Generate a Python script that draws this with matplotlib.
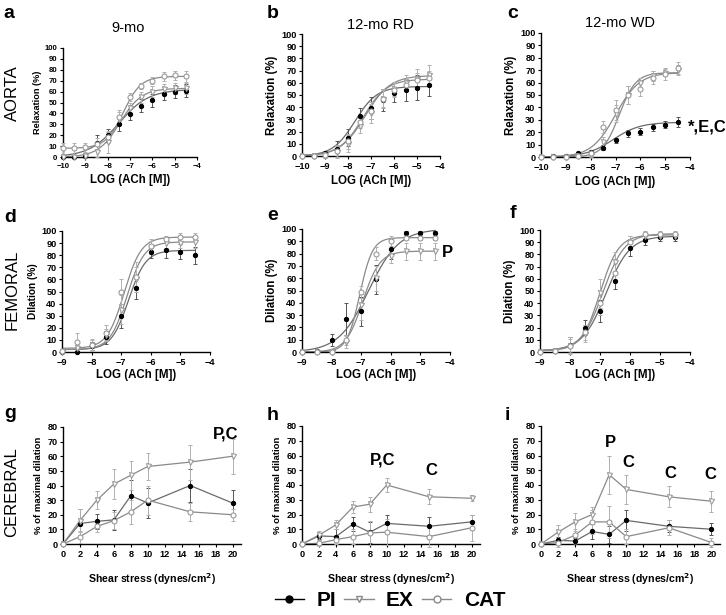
import numpy as np
import matplotlib
matplotlib.use("Agg")
import matplotlib.pyplot as plt
from matplotlib.lines import Line2D

plt.rcParams['font.family'] = ['Liberation Sans', 'DejaVu Sans']

# ---------------- data ----------------
x_aorta = [-10, -9.5, -9, -8.5, -8, -7.5, -7, -6.5, -6, -5.5, -5, -4.5]
x_fem = [-9, -8.5, -8, -7.5, -7, -6.5, -6, -5.5, -5, -4.5]
x_shear = [0, 2, 4, 6, 8, 10, 15, 20]

# panel a (aorta 9-mo)
a_pi = [0, 0, 1, 13, 20, 30, 39, 47, 52, 58, 60, 61]
a_pi_err = [0, 0, 1, 7, 6, 6, 5, 6, 6, 6, 6, 6]
a_ex = [0, 0, 1, 5, 14, 35, 45, 55, 60, 62, 63, 63]
a_ex_err = [0, 0, 2, 5, 10, 6, 5, 5, 5, 5, 5, 5]
a_cat = [8, 8, 9, 12, 18, 37, 55, 65, 70, 74, 75, 74]
a_cat_err = [5, 5, 4, 5, 5, 6, 4, 3, 3, 4, 4, 5]
# panel b (aorta 12-mo RD)
b_pi = [0, 0, 2.5, 6, 15, 33, 39, 46, 52, 54, 56, 58]
b_pi_err = [0, 0, 2, 6, 7, 6, 9, 9, 8, 9, 10, 9]
b_ex = [0, 0, 1, 3, 10, 25, 35, 47, 55, 60, 63, 66]
b_ex_err = [0, 1, 3, 5, 7, 6, 8, 8, 6, 6, 8, 9]
b_cat = [0, 0, 1, 4, 12, 28, 37, 47, 54, 58, 62, 64]
b_cat_err = [0, 1, 3, 5, 6, 5, 7, 7, 6, 5, 6, 6]
# panel c (aorta 12-mo WD)
c_pi = [0, 0.5, 1, 3, 4, 7.5, 13.5, 19, 20.5, 24, 26, 28]
c_pi_err = [0, 0.5, 0.5, 1, 1.5, 2, 2, 3, 3, 3, 3, 4]
c_ex = [0, 0, 0, 1, 2, 12, 35, 50, 60, 65, 68, 70]
c_ex_err = [0, 0, 0, 0, 2, 4, 7, 7, 4, 4, 3, 4]
c_cat = [0, 0, 0, 1, 3, 24, 38, 50, 55, 64, 67, 72]
c_cat_err = [0, 0, 0, 1, 2, 5, 8, 7, 6, 5, 5, 5]
# panel d (femoral 9-mo)
d_pi = [0, 0, 5, 12, 30, 53, 83, 84, 83, 80]
d_pi_err = [0, 1, 3, 5, 10, 9, 5, 6, 6, 7]
d_ex = [0, 3, 6, 14, 35, 60, 87, 90, 90, 91]
d_ex_err = [0, 3, 4, 5, 12, 10, 6, 4, 4, 5]
d_cat = [1, 8, 6, 16, 50, 62, 88, 93, 95, 95]
d_cat_err = [1, 8, 5, 6, 10, 12, 4, 3, 3, 3]
# panel e (femoral 12-mo RD)
e_pi = [0, 1, 9.5, 27, 33, 59, 84, 97, 97, 97]
e_pi_err = [0, 1, 5, 13, 12, 12, 8, 1, 1, 1]
e_ex = [0, 0, 0, 8, 38, 60, 78, 82, 82, 82]
e_ex_err = [0, 1, 1, 5, 12, 10, 6, 7, 7, 7]
e_cat = [0, 0, 0, 10, 49, 80, 90, 93, 93, 93]
e_cat_err = [0, 0, 1, 4, 5, 5, 4, 2, 2, 2]
# panel f (femoral 12-mo WD)
f_pi = [0, 1, 6, 20, 34, 58, 85, 92, 94, 94]
f_pi_err = [0, 1, 6, 6, 9, 6, 6, 4, 3, 3]
f_ex = [0, 1, 5, 15, 48, 74, 90, 95, 95, 95]
f_ex_err = [0, 1, 7, 7, 12, 8, 5, 2, 2, 2]
f_cat = [0, 1, 5, 16, 40, 65, 90, 97, 97, 97]
f_cat_err = [0, 1, 6, 6, 10, 8, 5, 2, 2, 2]
# panel g (cerebral 9-mo)
g_pi = [0, 14, 15.5, 16.5, 33, 28, 40, 28]
g_pi_err = [0, 10, 5, 7, 11, 10, 11, 9]
g_ex = [0, 16, 30, 41, 47, 53, 56, 60]
g_ex_err = [0, 8, 6, 10, 10, 9, 12, 12]
g_cat = [0, 5, 12, 16, 22, 30, 22, 20]
g_cat_err = [0, 4, 4, 6, 8, 10, 6, 4]
# panel h (cerebral 12-mo RD)
h_pi = [0, 5.5, 5, 13.5, 8, 14, 12, 15]
h_pi_err = [0, 2, 5, 5, 7, 6, 6, 5]
h_ex = [0, 6, 13, 25, 27, 40, 32, 31]
h_ex_err = [0, 3, 3, 4, 5, 5, 5, 2]
h_cat = [0, 0.5, 3, 5, 7.5, 8, 5, 11]
h_cat_err = [0, 2, 3, 5, 8, 9, 7, 9]
# panel i (cerebral 12-mo WD)
i_pi = [0, 2.5, 2, 8.5, 6.5, 16, 12, 10]
i_pi_err = [0, 2, 2, 5, 6, 7, 4, 4]
i_ex = [0, 8, 15, 20, 47, 37, 32, 29]
i_ex_err = [0, 5, 6, 5, 13, 10, 7, 7]
i_cat = [0, 1, 6, 15, 15, 5, 11, 1]
i_cat_err = [0, 3, 4, 8, 11, 5, 5, 3]

# fitted sigmoid parameters (bottom, top, logEC50, hill) per panel: PI, EX, CAT
fit_a = [(0, 62, -7.5, 0.65), (0, 63, -7.45, 0.9), (8, 74, -7.3, 1.1)]
fit_b = [(0, 57, -7.7, 0.9), (0, 66, -7.25, 0.8), (0, 63, -7.35, 0.85)]
fit_c = [(0, 28, -7.1, 0.8), (0, 68, -6.85, 1.3), (0, 68, -7.0, 0.9)]
fit_d = [(2, 84, -6.75, 1.5), (2, 91, -6.8, 1.5), (3, 95, -6.9, 1.5)]
fit_e = [(0, 100, -6.75, 0.85), (0, 82, -6.95, 1.5), (0, 93, -7.05, 2.0)]
fit_f = [(1, 95, -6.8, 1.1), (1, 96, -7.0, 1.4), (1, 97, -6.9, 1.2)]

series_names = ['PI', 'EX', 'CAT']
col_titles = ['9-mo', '12-mo RD', '12-mo WD']
row_labels = ['AORTA', 'FEMORAL', 'CEREBRAL']

# ---------------- style ----------------
GRAY = '#8a8a8a'
ERRG = '#b0b0b0'
styles = {
    'PI': dict(marker='o', mfc='black', mec='black', ms=3.0, ecolor='#555555'),
    'EX': dict(marker='v', mfc='white', mec='#9a9a9a', ms=3.6, ecolor=ERRG),
    'CAT': dict(marker='o', mfc='white', mec='#9a9a9a', ms=3.6, ecolor=ERRG),
}

W, H = 726, 615
fig = plt.figure(figsize=(W / 100, H / 100), dpi=100)


def ax_at(l, r, t, b):
    return fig.add_axes([l / W, 1 - b / H, (r - l) / W, (b - t) / H])


def style_axes(ax, tick_fs):
    for s in ['top', 'right']:
        ax.spines[s].set_visible(False)
    for s in ['left', 'bottom']:
        ax.spines[s].set_linewidth(1.0)
    ax.tick_params(direction='out', length=2.5, width=0.8, labelsize=tick_fs, pad=1.5)
    for lab in ax.get_xticklabels() + ax.get_yticklabels():
        lab.set_fontweight('bold')


def hill(x, p):
    b, t, ec, h = p
    return b + (t - b) / (1 + 10 ** (h * (ec - x)))


def draw_dose(ax, xs, data, errs, fits, xmin, tick_fs, ylab_fs, ylabel, xlab_pad=3):
    xc = np.linspace(xmin, -4.5, 300)
    for name, y, e, p in zip(series_names, data, errs, fits):
        st = styles[name]
        ax.plot(xc, hill(xc, p), color=GRAY if name != 'PI' else '#6a6a6a', lw=0.9, zorder=2)
        ax.errorbar(xs, y, yerr=e, fmt='none', ecolor=st['ecolor'], elinewidth=0.7,
                    capsize=1.6, capthick=0.7, zorder=3, clip_on=False)
        ax.plot(xs, y, ls='none', marker=st['marker'], mfc=st['mfc'], mec=st['mec'],
                ms=st['ms'], mew=0.8, zorder=4, clip_on=False)
    ax.set_xlim(xmin, -4)
    ax.set_ylim(0, 100)
    ax.set_xticks(np.arange(xmin, -3.5, 1))
    ax.set_yticks(np.arange(0, 101, 10))
    ax.set_xlabel('LOG (ACh [M])', fontsize=8.3, fontweight='bold', labelpad=xlab_pad)
    ax.set_ylabel(ylabel, fontsize=ylab_fs, fontweight='bold', labelpad=2)
    style_axes(ax, tick_fs)


def draw_shear(ax, data, errs):
    for name, y, e in zip(series_names, data, errs):
        st = styles[name]
        ax.plot(x_shear, y, color=GRAY if name != 'PI' else '#6a6a6a', lw=0.9, zorder=2)
        ax.errorbar(x_shear, y, yerr=e, fmt='none', ecolor=st['ecolor'], elinewidth=0.7,
                    capsize=1.6, capthick=0.7, zorder=3, clip_on=False)
        ax.plot(x_shear, y, ls='none', marker=st['marker'], mfc=st['mfc'], mec=st['mec'],
                ms=st['ms'], mew=0.8, zorder=4, clip_on=False)
    ax.set_xlim(0, 21)
    ax.set_ylim(0, 80)
    ax.set_xticks(np.arange(0, 21, 2))
    ax.set_yticks(np.arange(0, 81, 10))
    ax.set_xlabel('Shear stress (dynes/cm$^\\mathbf{2}$)', fontsize=7.6, fontweight='bold', labelpad=9)
    ax.set_ylabel('% of maximal dilation', fontsize=6.8, fontweight='bold', labelpad=3)
    style_axes(ax, 6.6)


# row 1 - aorta
axa = ax_at(63, 197, 48, 157)
draw_dose(axa, x_aorta, [a_pi, a_ex, a_cat], [a_pi_err, a_ex_err, a_cat_err], fit_a, -10, 5.6, 6.6, 'Relaxation (%)')
axb = ax_at(302, 440, 34, 156)
draw_dose(axb, x_aorta, [b_pi, b_ex, b_cat], [b_pi_err, b_ex_err, b_cat_err], fit_b, -10, 6.6, 8.3, 'Relaxation (%)')
axc = ax_at(541, 690, 33, 157)
draw_dose(axc, x_aorta, [c_pi, c_ex, c_cat], [c_pi_err, c_ex_err, c_cat_err], fit_c, -10, 6.6, 8.3, 'Relaxation (%)')
# row 2 - femoral
axd = ax_at(62, 210, 231, 352)
draw_dose(axd, x_fem, [d_pi, d_ex, d_cat], [d_pi_err, d_ex_err, d_cat_err], fit_d, -9, 6.6, 7.3, 'Dilation (%)', 2)
axe = ax_at(302, 450, 229, 352)
draw_dose(axe, x_fem, [e_pi, e_ex, e_cat], [e_pi_err, e_ex_err, e_cat_err], fit_e, -9, 6.6, 8.3, 'Dilation (%)', 2)
axf = ax_at(540, 690, 230, 352)
draw_dose(axf, x_fem, [f_pi, f_ex, f_cat], [f_pi_err, f_ex_err, f_cat_err], fit_f, -9, 6.6, 8.3, 'Dilation (%)', 2)
# row 3 - cerebral
axg = ax_at(63, 241, 427, 544)
draw_shear(axg, [g_pi, g_ex, g_cat], [g_pi_err, g_ex_err, g_cat_err])
axh = ax_at(302, 480, 426, 544)
draw_shear(axh, [h_pi, h_ex, h_cat], [h_pi_err, h_ex_err, h_cat_err])
axi = ax_at(541, 720, 426, 544)
draw_shear(axi, [i_pi, i_ex, i_cat], [i_pi_err, i_ex_err, i_cat_err])

# significance annotations
ann_kw = dict(fontsize=12, fontweight='bold', ha='center', va='center', annotation_clip=False)
axc.annotate('*,E,C', xy=(-3.3, 24), **ann_kw)
axe.annotate('P', xy=(-4.1, 81), **ann_kw)
axg.annotate('P,C', xy=(19.2, 75), **ann_kw)
axh.annotate('P,C', xy=(9.5, 57), **ann_kw)
axh.annotate('C', xy=(15.3, 50), **ann_kw)
axi.annotate('P', xy=(8.1, 69), **ann_kw)
axi.annotate('C', xy=(10.3, 55), **ann_kw)
axi.annotate('C', xy=(15.2, 48), **ann_kw)
axi.annotate('C', xy=(19.9, 47), **ann_kw)

# panel letters
letters = [('a', 9, 14), ('b', 273, 14), ('c', 513, 14), ('d', 10, 218), ('e', 273, 215),
           ('f', 513, 213), ('g', 10, 413), ('h', 273, 415), ('i', 507, 415)]
for t, px, py in letters:
    fig.text(px / W, 1 - py / H, t, fontsize=14, fontweight='bold', ha='center', va='center')

# column titles
for t, px, py in zip(col_titles, [128, 380, 620], [28, 25, 23]):
    fig.text(px / W, 1 - py / H, t, fontsize=10.5, ha='center', va='center')

# row labels
for t, py in zip(row_labels, [93, 290, 492]):
    fig.text(12 / W, 1 - py / H, t, fontsize=12, rotation=90, ha='center', va='center')

# legend
handles = [
    Line2D([], [], color='black', lw=1, marker='o', mfc='black', mec='black', ms=5),
    Line2D([], [], color=GRAY, lw=1, marker='v', mfc='white', mec=GRAY, ms=5),
    Line2D([], [], color=GRAY, lw=1, marker='o', mfc='white', mec=GRAY, ms=5),
]
leg = fig.legend(handles, series_names, loc='center', bbox_to_anchor=(390 / W, 1 - 601 / H),
                 ncol=3, frameon=False, handlelength=1.4, handletextpad=0.6, columnspacing=0.4,
                 prop=dict(size=15, weight='bold'))

fig.savefig('out.png', dpi=100)
